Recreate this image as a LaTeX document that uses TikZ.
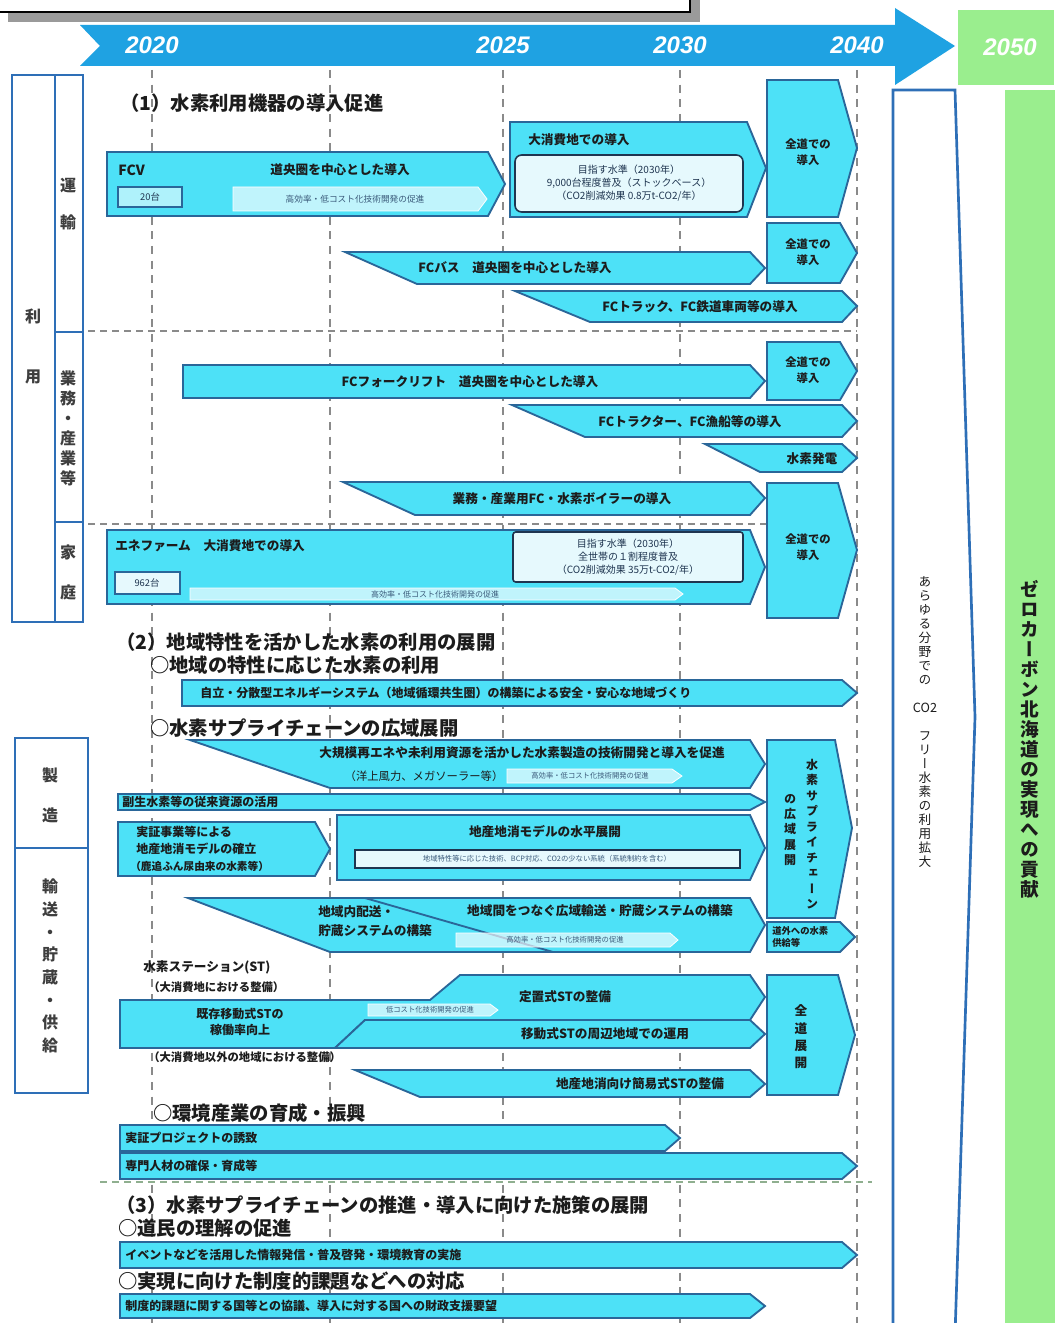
\documentclass[tikz,border=0pt]{standalone}
\usepackage{fontspec}
\setmainfont{Noto Sans CJK JP}
\newfontfamily\vjp{Noto Sans CJK JP}[RawFeature=+vert]
\newfontfamily\yrfont{Liberation Sans}
\newcommand{\fz}[2]{\fontsize{#1}{#2}\selectfont}
\definecolor{cy}{HTML}{4DE1F7}
\definecolor{bdr}{HTML}{2A6699}
\definecolor{tlblue}{HTML}{1FA2E2}
\definecolor{grn}{HTML}{9AEE8E}
\definecolor{lblue}{HTML}{2E6FB7}
\definecolor{navy}{HTML}{1F3550}
\definecolor{lightc}{HTML}{E6F9FD}
\definecolor{txt}{HTML}{1C1C1C}
\definecolor{dgray}{HTML}{8A8A8A}
\definecolor{shgray}{HTML}{9A9A9A}
\definecolor{pilltxt}{HTML}{3A5A7A}
\definecolor{gdash}{HTML}{8FAF8F}
\tikzset{
 chev/.style={draw=bdr, fill=cy, line width=1.4pt, line join=miter},
 pill/.style={fill=white, fill opacity=0.65, draw=white, line width=0.6pt},
 tgt/.style={draw=navy, fill=lightc, line width=1.2pt, rounded corners=5pt},
 lbl/.style={draw=lblue, line width=2pt},
 vdash/.style={draw=dgray, line width=0.9pt, dash pattern=on 6pt off 5pt},
 hdash/.style={draw=dgray, line width=1pt, dash pattern=on 5pt off 4pt},
 gdashed/.style={draw=gdash, line width=1.2pt, dash pattern=on 5pt off 4pt},
 yr/.style={font=\yrfont\bfseries\itshape\fz{18}{18}, text=white, inner sep=0pt},
 btxt/.style={font=\fz{9.5}{11}\bfseries, text=txt, inner sep=0pt},
 ltxt/.style={font=\fz{9}{11}\bfseries, text=txt, inner sep=0pt, anchor=west},
 head/.style={font=\fz{14.5}{16}\bfseries, text=txt, inner sep=0pt, anchor=west},
 ptxt/.style={font=\fz{5.5}{6}, text=pilltxt, inner sep=0pt},
 ttxt/.style={font=\fz{7.5}{9.5}, text=navy, inner sep=0pt, align=center},
 zd/.style={font=\fz{8.5}{12}\bfseries, text=txt, inner sep=0pt, align=center},
 labtxt/.style={font=\vjp\fz{12}{15}\bfseries, text=txt!85, inner sep=0pt, align=center},
 vtxt/.style={font=\vjp\fz{9.5}{10.5}, text=txt, inner sep=0pt, align=center},
}
\begin{document}
\begin{tikzpicture}[x=0.75pt,y=-0.75pt]
\useasboundingbox (0,0) rectangle (1054,1323);
\fill[white] (0,0) rectangle (1054,1323);

% title box remnant with shadow
\fill[shgray] (8,-10) rectangle (700,22);
\draw[line width=1.6pt, fill=white] (-5,-10) rectangle (690,12);

% dashed grid
\foreach \xx in {152,330,503,680,857} \draw[vdash] (\xx,70) -- (\xx,1323);
\draw[hdash] (88,331) -- (857,331);
\draw[hdash] (88,524) -- (857,524);
\draw[gdashed] (100,1182) -- (872,1182);

% timeline
\fill[tlblue] (80,25) -- (895,25) -- (895,8) -- (955,46) -- (895,85) -- (895,66) -- (80,66) -- (100,46) -- cycle;
\node[yr] (y2020) at (152,45) {2020};
\node[yr] (y2025) at (503,45) {2025};
\node[yr] (y2030) at (680,45) {2030};
\node[yr] (y2040) at (857,45) {2040};
\fill[grn] (958,10) rectangle (1054,85);
\node[yr] (y2050) at (1010,47) {2050};

% right side boxes
\draw[lbl, fill=white] (893,1335) -- (893,90) -- (955,90) -- (975,717) -- (955,1335);
\node[vtxt] (vt1) at (925,722) {あ\\ら\\ゆ\\る\\分\\野\\で\\の\\~\\CO2\\~\\フ\\リ\\ー\\水\\素\\の\\利\\用\\拡\\大};
\fill[grn] (1005,90) rectangle (1060,1335);
\node[font=\vjp\fz{14}{15}\bfseries, text=txt, inner sep=0pt, align=center] (gv) at (1030,739) {ゼ\\ロ\\カ\\ー\\ボ\\ン\\北\\海\\道\\の\\実\\現\\へ\\の\\貢\\献};

% left label boxes
\draw[lbl] (12,75) rectangle (83,622);
\draw[lbl] (55,75) -- (55,622);
\draw[lbl] (55,332) -- (83,332);
\draw[lbl] (55,522) -- (83,522);
\node[labtxt, font=\vjp\fz{12}{45}\bfseries] (riyo) at (33,346) {利\\用};
\node[labtxt, font=\vjp\fz{12}{28}\bfseries] (unyu) at (68,204) {運\\輸};
\node[labtxt] (gyomu) at (68,428) {業\\務\\・\\産\\業\\等};
\node[labtxt, font=\vjp\fz{12}{30}\bfseries] (katei) at (68,572) {家\\庭};
\draw[lbl] (15,738) rectangle (88,1093);
\draw[lbl] (15,848) -- (88,848);
\node[labtxt, font=\vjp\fz{12}{30}\bfseries] (seizo) at (50,795) {製\\造};
\node[labtxt, font=\vjp\fz{12}{17}\bfseries] (yuso) at (50,966) {輸\\送\\・\\貯\\蔵\\・\\供\\給};

% ===== (1) =====
\node[head] (h1) at (120,103) {（1）水素利用機器の導入促進};

% FCV
\draw[chev] (107,152) -- (488,152) -- (505,184) -- (488,216) -- (107,216) -- cycle;
\node[btxt, anchor=west, font=\fz{10.5}{11}\bfseries] (fcv) at (118,170) {FCV};
\draw[draw=bdr, fill=cy!45!white, line width=1pt] (118,187) rectangle (182,207);
\node[font=\fz{7}{8}, text=navy, inner sep=0pt] (n20) at (150,197) {20台};
\node[btxt] (fcv1) at (340,170) {道央圏を中心とした導入};
\draw[pill] (233,187) -- (478,187) -- (487,199) -- (478,211) -- (233,211) -- cycle;
\node[ptxt, font=\fz{6.5}{7}] (fcvp) at (355,199) {高効率・低コスト化技術開発の促進};

% big consumption
\draw[chev] (510,122) -- (747,122) -- (766,168) -- (747,217) -- (510,217) -- cycle;
\node[btxt, anchor=west] (dai) at (528,140) {大消費地での導入};
\draw[tgt] (515,155) rectangle (743,212);
\node[ttxt] (t1) at (629,183) {目指す水準（2030年）\\9,000台程度普及（ストックベース）\\（CO2削減効果 0.8万t-CO2/年）};

% all-Hokkaido 1,2
\draw[chev] (767,80) -- (838,80) -- (857,148) -- (838,217) -- (767,217) -- cycle;
\node[zd] (zd1) at (808,152) {全道での\\導入};
\draw[chev] (767,223) -- (840,223) -- (857,253) -- (840,283) -- (767,283) -- cycle;
\node[zd] (zd2) at (808,252) {全道での\\導入};

% FC bus
\draw[chev] (345,252) -- (750,252) -- (765,268) -- (750,284) -- (417,284) -- cycle;
\node[btxt] (bus) at (515,268) {FCバス　道央圏を中心とした導入};
% FC truck
\draw[chev] (515,291) -- (842,291) -- (857,306) -- (842,322) -- (590,322) -- cycle;
\node[btxt] (truck) at (700,307) {FCトラック、FC鉄道車両等の導入};

% business
\draw[chev] (767,342) -- (840,342) -- (857,371) -- (840,400) -- (767,400) -- cycle;
\node[zd] (zd3) at (808,370) {全道での\\導入};
\draw[chev] (183,365) -- (750,365) -- (765,381) -- (750,398) -- (183,398) -- cycle;
\node[btxt] (fork) at (470,382) {FCフォークリフト　道央圏を中心とした導入};
\draw[chev] (512,405) -- (842,405) -- (857,421) -- (842,437) -- (585,437) -- cycle;
\node[btxt] (tractor) at (690,422) {FCトラクター、FC漁船等の導入};
\draw[chev] (705,444) -- (842,444) -- (857,458) -- (842,472) -- (760,472) -- cycle;
\node[btxt] (power) at (812,459) {水素発電};
\draw[chev] (343,482) -- (750,482) -- (765,498) -- (750,515) -- (415,515) -- cycle;
\node[btxt] (boiler) at (562,499) {業務・産業用FC・水素ボイラーの導入};

% household
\draw[chev] (767,483) -- (838,483) -- (857,550) -- (838,618) -- (767,618) -- cycle;
\node[zd] (zd4) at (808,547) {全道での\\導入};
\draw[chev] (107,530) -- (750,530) -- (765,567) -- (750,604) -- (107,604) -- cycle;
\node[btxt, anchor=west] (ene) at (115,546) {エネファーム　大消費地での導入};
\draw[draw=bdr, fill=lightc, line width=1pt] (115,572) rectangle (180,594);
\node[font=\fz{7}{8}, text=navy, inner sep=0pt] (n962) at (147,583) {962台};
\draw[pill] (190,588) -- (675,588) -- (683,594) -- (675,600) -- (190,600) -- cycle;
\node[ptxt, font=\fz{6}{7}] (enep) at (435,594) {高効率・低コスト化技術開発の促進};
\draw[tgt, rounded corners=2pt] (513,532) rectangle (743,582);
\node[ttxt] (t2) at (628,557) {目指す水準（2030年）\\全世帯の１割程度普及\\（CO2削減効果 35万t-CO2/年）};

% ===== (2) =====
\node[head] (h2) at (116,642) {（2）地域特性を活かした水素の利用の展開};
\node[head] (h2a) at (150,665) {○地域の特性に応じた水素の利用};
\draw[chev] (182,680) -- (842,680) -- (857,693) -- (842,706) -- (182,706) -- cycle;
\node[ltxt] (jiritsu) at (200,693) {自立・分散型エネルギーシステム（地域循環共生圏）の構築による安全・安心な地域づくり};
\node[head] (h2b) at (150,728) {○水素サプライチェーンの広域展開};

% large-scale renewable
\draw[chev] (190,740) -- (750,740) -- (765,764) -- (750,788) -- (330,788) -- cycle;
\node[btxt] (dkibo) at (522,753) {大規模再エネや未利用資源を活かした水素製造の技術開発と導入を促進};
\node[btxt, font=\fz{8.5}{9}] (yojo) at (424,776) {（洋上風力、メガソーラー等）};
\draw[pill] (507,769) -- (672,769) -- (682,776) -- (672,783) -- (507,783) -- cycle;
\node[ptxt] (dkp) at (590,776) {高効率・低コスト化技術開発の促進};

% by-product
\draw[chev] (118,794) -- (750,794) -- (765,802) -- (750,810) -- (118,810) -- cycle;
\node[ltxt] (fukusei) at (122,802) {副生水素等の従来資源の活用};

% demonstration
\draw[chev] (118,822) -- (315,822) -- (330,849) -- (315,876) -- (118,876) -- cycle;
\node[ltxt] (jissho1) at (136,832) {実証事業等による};
\node[ltxt] (jissho2) at (136,849) {地産地消モデルの確立};
\node[ltxt, font=\fz{8}{9}\bfseries] (jissho3) at (130,866) {（鹿追ふん尿由来の水素等）};

% local production horizontal
\draw[chev] (337,815) -- (750,815) -- (765,848) -- (750,880) -- (337,880) -- cycle;
\node[btxt] (chisan) at (545,832) {地産地消モデルの水平展開};
\draw[draw=navy, fill=lightc, line width=0.8pt] (355,850) rectangle (740,868);
\node[ptxt] (chisanp) at (547,859) {地域特性等に応じた技術、BCP対応、CO2の少ない系統（系統制約を含む）};

% supply chain wide
\draw[chev] (767,740) -- (835,740) -- (852,828) -- (835,918) -- (767,918) -- cycle;
\node[font=\vjp\fz{9}{11.6}\bfseries, text=txt, inner sep=0pt, align=center] (sc1) at (812,834) {水\\素\\サ\\プ\\ラ\\イ\\チ\\ェ\\ー\\ン};
\node[font=\vjp\fz{9}{11.6}\bfseries, text=txt, inner sep=0pt, align=center] (sc2) at (790,830) {の\\広\\域\\展\\開};
\draw[chev] (767,922) -- (840,922) -- (855,937) -- (840,952) -- (767,952) -- cycle;
\node[font=\fz{7}{9.5}\bfseries, text=txt, inner sep=0pt, align=left, anchor=west] (dogai) at (772,937) {道外への水素\\供給等};

% regional transport
\draw[chev] (188,898) -- (750,898) -- (765,925) -- (750,952) -- (330,952) -- cycle;
\draw[draw=bdr, line width=1.4pt] (365,898) -- (553,952);
\node[ltxt, font=\fz{9.5}{11}\bfseries] (nai1) at (318,912) {地域内配送・};
\node[ltxt, font=\fz{9.5}{11}\bfseries] (nai2) at (318,931) {貯蔵システムの構築};
\node[btxt] (kan) at (600,911) {地域間をつなぐ広域輸送・貯蔵システムの構築};
\draw[pill] (456,933) -- (670,933) -- (678,940) -- (670,947) -- (456,947) -- cycle;
\node[ptxt] (kanp) at (565,940) {高効率・低コスト化技術開発の促進};

% hydrogen stations
\node[ltxt, font=\fz{9.5}{11}\bfseries] (st) at (143,967) {水素ステーション(ST)};
\node[ltxt, font=\fz{8.5}{10}\bfseries] (st1) at (148,987) {（大消費地における整備）};
\draw[chev] (120,1000) -- (430,1000) -- (460,975) -- (750,975) -- (765,997) -- (750,1020) -- (365,1020) -- (335,1048) -- (120,1048) -- cycle;
\draw[chev] (365,1020) -- (750,1020) -- (765,1034) -- (750,1048) -- (335,1048) -- cycle;
\node[btxt, align=center, font=\fz{9}{12}\bfseries] (kizon) at (240,1022) {既存移動式STの\\稼働率向上};
\node[btxt] (teichi) at (565,997) {定置式STの整備};
\node[btxt] (ido) at (605,1034) {移動式STの周辺地域での運用};
\draw[pill] (368,1004) -- (490,1004) -- (498,1010) -- (490,1016) -- (368,1016) -- cycle;
\node[ptxt] (stp) at (430,1010) {低コスト化技術開発の促進};
\node[ltxt, font=\fz{8.5}{10}\bfseries] (st2) at (148,1057) {（大消費地以外の地域における整備）};
\draw[chev] (355,1070) -- (750,1070) -- (765,1084) -- (750,1097) -- (420,1097) -- cycle;
\node[btxt] (kani) at (640,1084) {地産地消向け簡易式STの整備};
\draw[chev] (767,975) -- (838,975) -- (855,1035) -- (838,1095) -- (767,1095) -- cycle;
\node[font=\vjp\fz{9.5}{13}\bfseries, text=txt, inner sep=0pt, align=center] (zdt) at (801,1037) {全\\道\\展\\開};

% environment industry
\node[head] (h2c) at (153,1113) {○環境産業の育成・振興};
\draw[chev] (120,1125) -- (665,1125) -- (680,1138) -- (665,1151) -- (120,1151) -- cycle;
\node[ltxt] (pj) at (125,1138) {実証プロジェクトの誘致};
\draw[chev] (120,1153) -- (842,1153) -- (857,1166) -- (842,1179) -- (120,1179) -- cycle;
\node[ltxt] (jinzai) at (125,1166) {専門人材の確保・育成等};

% ===== (3) =====
\node[head] (h3) at (116,1205) {（3）水素サプライチェーンの推進・導入に向けた施策の展開};
\node[head] (h3a) at (118,1228) {○道民の理解の促進};
\draw[chev] (120,1242) -- (842,1242) -- (857,1255) -- (842,1268) -- (120,1268) -- cycle;
\node[ltxt] (event) at (125,1255) {イベントなどを活用した情報発信・普及啓発・環境教育の実施};
\node[head] (h3b) at (118,1281) {○実現に向けた制度的課題などへの対応};
\draw[chev] (120,1294) -- (750,1294) -- (765,1306) -- (750,1318) -- (120,1318) -- cycle;
\node[ltxt] (seido) at (125,1306) {制度的課題に関する国等との協議、導入に対する国への財政支援要望};

\end{tikzpicture}
\end{document}
